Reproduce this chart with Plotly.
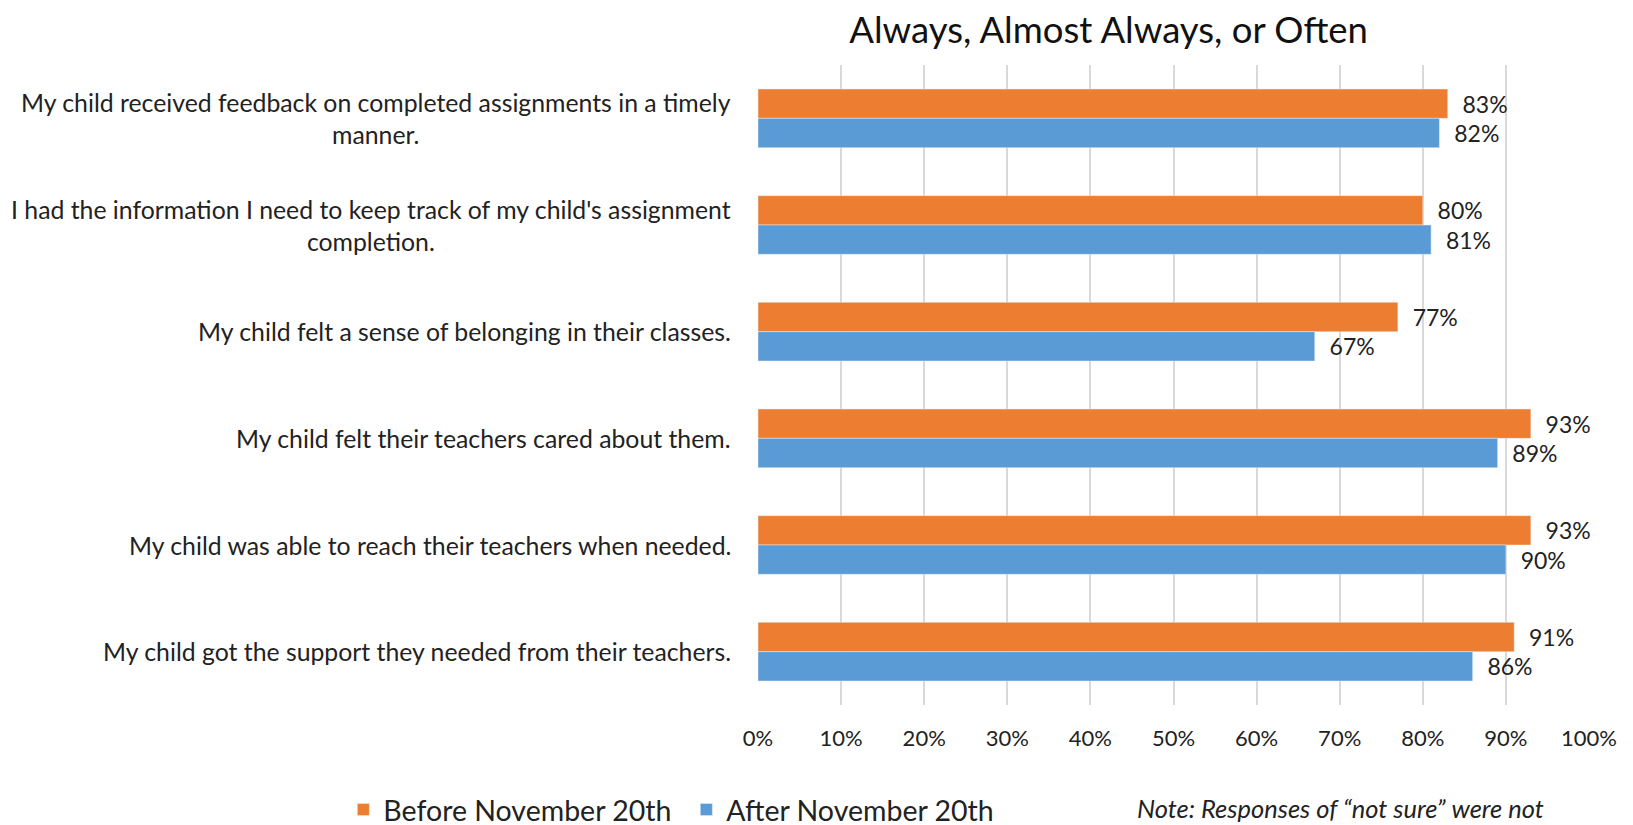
import plotly.graph_objects as go

# survey items (top to bottom)
questions = [
    "My child received feedback on completed assignments in a timely<br>manner.",
    "I had the information I need to keep track of my child's assignment<br>completion.",
    "My child felt a sense of belonging in their classes.",
    "My child felt their teachers cared about them.",
    "My child was able to reach their teachers when needed.",
    "My child got the support they needed from their teachers.",
]
before_nov20 = [0.83, 0.80, 0.77, 0.93, 0.93, 0.91]
after_nov20 = [0.82, 0.81, 0.67, 0.89, 0.90, 0.86]
x_ticks = [i / 10 for i in range(11)]
x_tick_labels = [f"{i * 10}%" for i in range(11)]

FONT = "Lato, 'Open Sans', sans-serif"
ORANGE = "#ED7D31"
BLUE = "#5B9BD5"
PAD = "\u00a0\u00a0"

fig = go.Figure()

fig.add_trace(go.Bar(
    y=questions, x=before_nov20, orientation="h",
    name="Before November 20th", marker_color=ORANGE,
    text=[f"{PAD}{v:.0%}" for v in before_nov20], textposition="outside",
    textfont=dict(size=23, color="#222"), cliponaxis=False,
))
fig.add_trace(go.Bar(
    y=questions, x=after_nov20, orientation="h",
    name="After November 20th", marker_color=BLUE,
    text=[f"{PAD}{v:.0%}" for v in after_nov20], textposition="outside",
    textfont=dict(size=23, color="#222"), cliponaxis=False,
))

# category labels as annotations so wrapped lines stay centred
for q in questions:
    fig.add_annotation(
        xref="paper", yref="y", x=-0.03, y=q,
        text=q, showarrow=False, xanchor="right", align="center",
        font=dict(size=24.8, color="#222", family=FONT),
    )

fig.add_annotation(
    xref="paper", yref="paper", x=0.454, y=-0.161,
    text="<i>Note: Responses of \u201cnot sure\u201d were not</i>",
    showarrow=False, xanchor="left", yanchor="middle",
    font=dict(size=25.5, color="#222", family=FONT),
)

fig.update_layout(
    width=1633, height=840,
    font=dict(family=FONT, color="#222"),
    paper_bgcolor="white", plot_bgcolor="white",
    margin=dict(l=750, r=52, t=57, b=143),
    barmode="group", bargap=0.45, bargroupgap=0,
    title=dict(
        text="Always, Almost Always, or Often",
        x=0.674, xref="container", xanchor="center",
        y=1 - 22 / 840, yref="container", yanchor="middle",
        font=dict(size=36.5, color="#111", family=FONT),
    ),
    legend=dict(
        orientation="h", x=-0.499, y=-0.164, xanchor="left", yanchor="middle",
        font=dict(size=28.5, color="#222"), traceorder="normal",
        entrywidth=298, entrywidthmode="pixels",
    ),
    showlegend=True,
)

fig.update_xaxes(
    range=[0, 1], tickvals=x_ticks, ticktext=x_tick_labels,
    showgrid=True, gridcolor="#D9D9D9", gridwidth=1.5,
    zeroline=False, showline=False, ticks="",
    tickfont=dict(size=22, color="#222"), ticklabelstandoff=18,
)
fig.update_yaxes(
    autorange="reversed", showticklabels=False, showgrid=False,
    showline=False, ticks="",
)

fig.write_html("out.html")
